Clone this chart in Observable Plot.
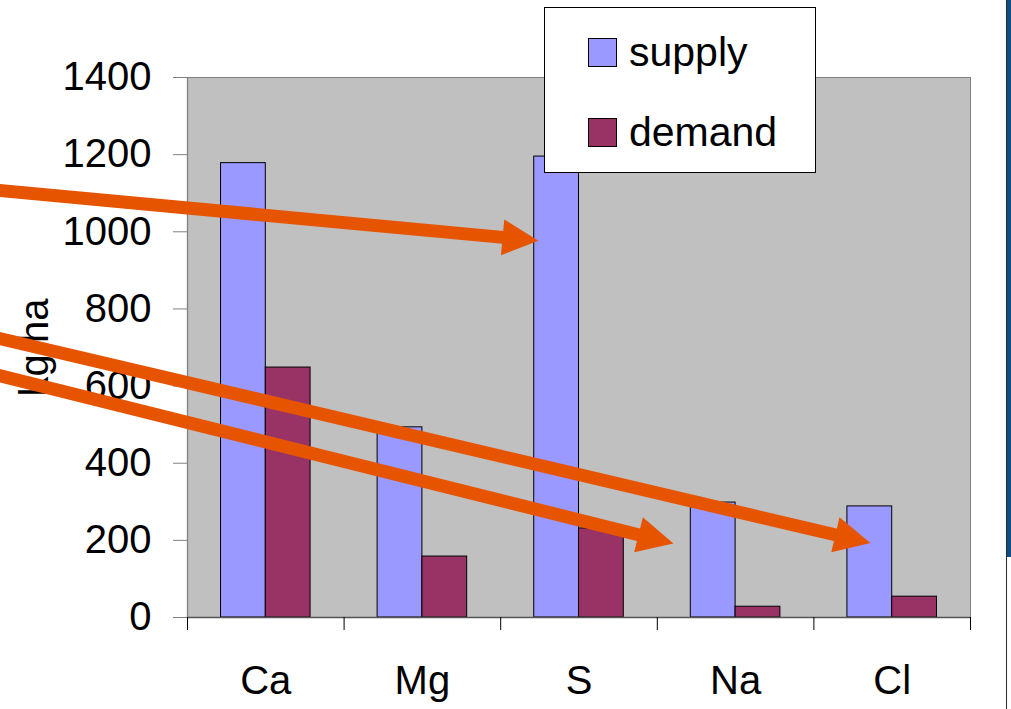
<!DOCTYPE html>
<html>
<head>
<meta charset="utf-8">
<script src="https://cdn.jsdelivr.net/npm/d3@7"></script>
<script src="https://cdn.jsdelivr.net/npm/@observablehq/plot@0.6"></script>
<style>
  html, body { margin: 0; padding: 0; background: #fff; }
  #wrap { position: relative; width: 1011px; height: 709px; overflow: hidden; font-family: "Liberation Sans", Arial, sans-serif; }
  #legend { position: absolute; left: 544px; top: 7px; width: 270px; height: 164px; background: #fff; border: 1px solid #000; }
  .item { position: absolute; left: 43px; height: 29px; display: flex; align-items: center; font-size: 41px; line-height: 29px; }
  .sw { width: 27px; height: 27px; border: 1px solid #000; margin-right: 12px; flex: none; }
  #edge { position: absolute; left: 1006px; top: 0; width: 1px; height: 709px; background: #2a2a2a; }
  #band { position: absolute; left: 1007px; top: 0; width: 4px; height: 557px; background: #0d4f86; }
</style>
</head>
<body>
<div id="wrap"></div>
<script>
// Nutrient budget per element, kg/ha
const categories = ["Ca", "Mg", "S", "Na", "Cl"];
const supply = [1178, 493, 1195, 298, 288];
const demand = [648, 158, 231, 28, 54];
const yTicks = [0, 200, 400, 600, 800, 1000, 1200, 1400];
const seriesNames = ["supply", "demand"];
const seriesColors = ["#9999ff", "#993366"];

// Annotation arrows (start off to the left, tip inside the chart), in data units
const arrowStartX = [-1.25, -1.25, -1.25];
const arrowStartY = [1109, 728, 632];
const arrowTipX = [2.241, 4.361, 3.103];
const arrowTipY = [977, 193, 192];

const W = 1011, H = 709;
const ML = 187, MR = 41, MT = 77, MB = 92;
const HEAD = 36, HEAD_W = 36, SHAFT = 13;
const orange = "#e65400";
const FONT = 40;

// Bar rows: each element occupies one unit on x, bars sit side by side in its middle
const rows = [];
categories.forEach((c, i) => {
  rows.push({cat: c, series: "supply", value: supply[i], x1: i + 0.214, x2: i + 0.5});
  rows.push({cat: c, series: "demand", value: demand[i], x1: i + 0.5, x2: i + 0.786});
});

const xScale = Plot.scale({x: {type: "linear", domain: [0, 5], range: [ML, W - MR]}});
const yScale = Plot.scale({y: {type: "linear", domain: [0, 1400], range: [H - MB, MT]}});

// Arrow shafts end where the head begins; heads are rotated to the shaft direction
const arrows = arrowTipX.map((_, i) => {
  const px1 = xScale.apply(arrowStartX[i]), py1 = yScale.apply(arrowStartY[i]);
  const px2 = xScale.apply(arrowTipX[i]), py2 = yScale.apply(arrowTipY[i]);
  const dx = px2 - px1, dy = py2 - py1, len = Math.hypot(dx, dy);
  const bx = px2 - dx / len * (HEAD - 3), by = py2 - dy / len * (HEAD - 3);
  return {
    x1: arrowStartX[i], y1: arrowStartY[i],
    x2: arrowTipX[i], y2: arrowTipY[i],
    bx: xScale.invert(bx), by: yScale.invert(by),
    angle: Math.atan2(dy, dx) * 180 / Math.PI + 90
  };
});

const arrowHead = {
  draw(context) {
    context.moveTo(0, 0);
    context.lineTo(-HEAD_W / 2, HEAD);
    context.lineTo(HEAD_W / 2, HEAD);
    context.closePath();
  }
};

const chart = Plot.plot({
  width: W,
  height: H,
  marginLeft: ML,
  marginRight: MR,
  marginTop: MT,
  marginBottom: MB,
  style: {background: "transparent", fontFamily: "'Liberation Sans', Arial, sans-serif", color: "#000", overflow: "visible"},
  x: {type: "linear", domain: [0, 5]},
  y: {type: "linear", domain: [0, 1400]},
  color: {domain: seriesNames, range: seriesColors},
  marks: [
    Plot.frame({fill: "#c0c0c0", stroke: "#808080"}),
    Plot.rectY(rows, {x1: "x1", x2: "x2", y: "value", fill: "series", stroke: "#000", strokeWidth: 1}),
    Plot.ruleX([0], {stroke: "#808080", strokeWidth: 1.3}),
    Plot.ruleY([0], {stroke: "#555", strokeWidth: 1.3}),
    Plot.axisY({ticks: yTicks, tickFormat: d3.format("d"), tickSize: 14, tickPadding: 22, fontSize: FONT, stroke: "#808080", label: null}),
    Plot.axisX({ticks: d3.range(categories.length + 1), tickFormat: () => "", tickSize: 13, stroke: "#000", label: null}),
    Plot.axisX({ticks: categories.map((c, i) => i + 0.5), tickFormat: (d) => categories[Math.floor(d)], tickSize: 0, tickPadding: 48, fontSize: FONT, label: null}),
    Plot.text(["kg/ha"], {frameAnchor: "left", textAnchor: "middle", dx: -152, rotate: -90, fontSize: FONT}),
    Plot.link(arrows, {x1: "x1", y1: "y1", x2: "bx", y2: "by", stroke: orange, strokeWidth: SHAFT}),
    Plot.dot(arrows, {x: "x2", y: "y2", symbol: arrowHead, rotate: "angle", fill: orange, stroke: "none"})
  ]
});

const wrap = document.getElementById("wrap");
wrap.appendChild(chart);

// Legend box overlapping the top of the plot area
const legend = document.createElement("div");
legend.id = "legend";
seriesNames.forEach((name, i) => {
  const item = document.createElement("div");
  item.className = "item";
  item.style.top = (i === 0 ? 30 : 110) + "px";
  const sw = document.createElement("div");
  sw.className = "sw";
  sw.style.background = seriesColors[i];
  const label = document.createElement("span");
  label.textContent = name;
  item.appendChild(sw);
  item.appendChild(label);
  legend.appendChild(item);
});
wrap.appendChild(legend);

const edge = document.createElement("div");
edge.id = "edge";
wrap.appendChild(edge);
const band = document.createElement("div");
band.id = "band";
wrap.appendChild(band);
</script>
</body>
</html>
